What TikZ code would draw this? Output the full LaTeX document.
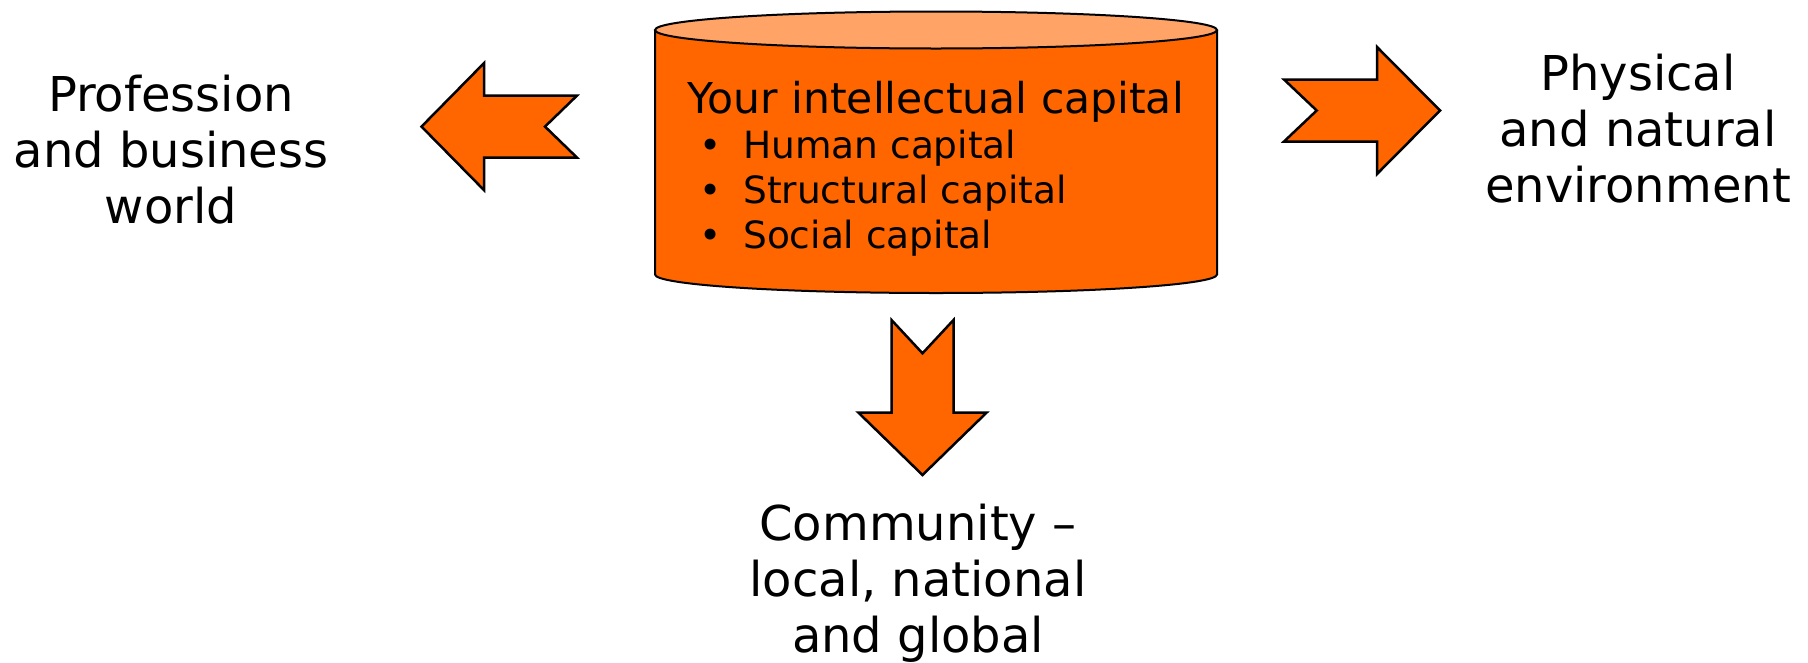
\documentclass[tikz,border=0pt]{standalone}
\usepackage{fontspec}
\setmainfont{DejaVu Sans}
\definecolor{bodyc}{HTML}{FF6600}
\definecolor{topc}{HTML}{FFA366}
\newcommand\bulitem[1]{\fontsize{37.5}{45}\selectfont\hspace*{23.7pt}\makebox[0pt]{•}\hspace*{32.3pt}#1}
\begin{document}
\begin{tikzpicture}[x=1pt,y=-1pt,
  blockarrow/.style={fill=bodyc,draw=black,line width=2.5pt,line join=miter},
  cyl/.style={draw=black,line width=2pt},
  outertext/.style={inner sep=0pt,anchor=base,font=\fontsize{48}{56}\selectfont}]
\useasboundingbox (0,0) rectangle (1808,662);

% cylinder
\fill[bodyc] (655,30) -- (655,274.5) arc[start angle=180,end angle=360,x radius=281pt,y radius=18.5pt] -- (1217,30) -- cycle;
\draw[cyl] (655,30) -- (655,274.5) arc[start angle=180,end angle=360,x radius=281pt,y radius=18.5pt] -- (1217,30);
\draw[cyl,fill=topc] (936,30) ellipse [x radius=281pt,y radius=18.5pt];

\node[inner sep=0pt,anchor=base west,font=\fontsize{42.5}{45}\selectfont] (ic) at (687,113.3)
  {\begin{tabular}[t]{@{}l@{}}Your intellectual capital\\
   \bulitem{Human capital}\\
   \bulitem{Structural capital}\\
   \bulitem{Social capital}\end{tabular}};

% arrows
\draw[blockarrow] (421.5,126.6) -- (484,63.1) -- (484,95.6) -- (577,95.6) -- (545,126.6)
  -- (577,157.6) -- (484,157.6) -- (484,190.1) -- cycle;
\draw[blockarrow] (1284,79.5) -- (1377,79.5) -- (1377,47) -- (1440,110.5) -- (1377,174)
  -- (1377,141.5) -- (1284,141.5) -- (1316.7,110.5) -- cycle;
\draw[blockarrow] (891.5,320) -- (922.5,353.3) -- (953.5,320) -- (953.5,412.7) -- (986.5,412.7)
  -- (922.5,475) -- (858.5,412.7) -- (891.5,412.7) -- cycle;

% labels
\node[outertext] (pb) at (171,111) {\begin{tabular}[t]{@{}c@{}}Profession\\and business\\world\end{tabular}};
\node[outertext] (pn) at (1638,90) {\begin{tabular}[t]{@{}c@{}}Physical\\and natural\\environment\end{tabular}};
\node[outertext] (cm) at (918,540) {\begin{tabular}[t]{@{}c@{}}Community –\\local, national\\and global\end{tabular}};
\end{tikzpicture}
\end{document}
